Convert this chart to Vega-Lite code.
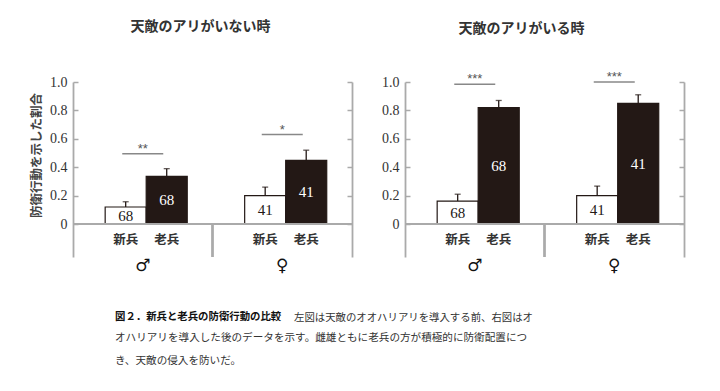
{
  "$schema": "https://vega.github.io/schema/vega-lite/v6.json",
  "background": "white",
  "padding": {"left": 30, "top": 20, "right": 5, "bottom": 5},
  "config": {
    "view": {"stroke": null},
    "axis": {"grid": false}
  },
  "datasets": {
    "bars": [
      {"panel": "none", "sex": "♂", "soldier": "新兵", "value": 0.12, "upper": 0.157, "n": 68},
      {"panel": "none", "sex": "♂", "soldier": "老兵", "value": 0.336, "upper": 0.39, "n": 68},
      {"panel": "none", "sex": "♀", "soldier": "新兵", "value": 0.2, "upper": 0.26, "n": 41},
      {"panel": "none", "sex": "♀", "soldier": "老兵", "value": 0.448, "upper": 0.52, "n": 41},
      {"panel": "with", "sex": "♂", "soldier": "新兵", "value": 0.162, "upper": 0.21, "n": 68},
      {"panel": "with", "sex": "♂", "soldier": "老兵", "value": 0.82, "upper": 0.87, "n": 68},
      {"panel": "with", "sex": "♀", "soldier": "新兵", "value": 0.2, "upper": 0.267, "n": 41},
      {"panel": "with", "sex": "♀", "soldier": "老兵", "value": 0.85, "upper": 0.91, "n": 41}
    ],
    "sig": [
      {"panel": "none", "sex": "♂", "level": 0.495, "label": "**"},
      {"panel": "none", "sex": "♀", "level": 0.63, "label": "*"},
      {"panel": "with", "sex": "♂", "level": 0.985, "label": "***"},
      {"panel": "with", "sex": "♀", "level": 1.0, "label": "***"}
    ]
  },
  "title": {
    "text": "図２．新兵と老兵の防衛行動の比較",
    "subtitle": ["オハリアリを導入した後のデータを示す。雌雄ともに老兵の方が積極的に防衛配置につ", "き、天敵の侵入を防いだ。"],
    "orient": "bottom",
    "anchor": "start",
    "frame": "bounds",
    "font": "Noto Sans CJK JP",
    "fontSize": 10.4,
    "fontWeight": "bold",
    "color": "#111111",
    "subtitleFont": "Noto Sans CJK JP",
    "subtitleFontSize": 10.6,
    "subtitleColor": "#333333",
    "subtitleLineHeight": 22.5,
    "subtitlePadding": 10.5,
    "offset": 0,
    "dy": -11,
    "dx": 85
  },
  "vconcat": [
    {
      "title": {
        "text": "左図は天敵のオオハリアリを導入する前、右図はオ",
        "orient": "bottom",
        "anchor": "start",
        "frame": "bounds",
        "font": "Noto Sans CJK JP",
        "fontSize": 10.4,
        "fontWeight": "normal",
        "color": "#333333",
        "offset": 40,
        "dx": 264
      },
      "spacing": 28,
      "hconcat": [
        {
          "width": 279,
          "height": 175,
          "title": {"text": "天敵のアリがいない時", "anchor": "middle", "frame": "group", "dx": -12, "font": "Noto Sans CJK JP", "fontSize": 14, "fontWeight": "bold", "color": "#333333", "offset": 41},
          "resolve": {"scale": {"y": "independent"}, "axis": {"y": "independent"}},
          "layer": [
            {
              "resolve": {"axis": {"y": "independent"}},
              "layer": [
                {
                  "data": {"name": "bars"},
                  "transform": [{"filter": "datum.panel === 'none'"}],
                  "mark": {"type": "bar", "stroke": "#231815", "strokeWidth": 1.2},
                  "encoding": {
                    "x": {"field": "sex", "type": "nominal", "sort": ["♂", "♀"], "scale": {"paddingInner": 0, "paddingOuter": 0},
                      "axis": {"title": null, "domain": false, "ticks": false, "labelAngle": 0, "labelFont": "DejaVu Sans", "labelFontSize": 17, "labelFontWeight": "bold", "labelColor": "#111111", "labelPadding": 0}},
                    "xOffset": {"field": "soldier", "type": "nominal", "sort": ["新兵", "老兵"], "scale": {"paddingInner": 0, "paddingOuter": 0.7, "align": 0.56}},
                    "y": {"field": "value", "type": "quantitative", "scale": {"domain": [-0.232, 1], "nice": false, "zero": false},
                      "axis": {"orient": "left", "values": [0, 0.2, 0.4, 0.6, 0.8, 1.0], "labelExpr": "datum.value == 0 ? '0' : format(datum.value, '.1f')", "domainColor": "#aaaaaa", "domainWidth": 1.8, "tickColor": "#aaaaaa", "tickWidth": 1.5, "tickSize": -5, "labelPadding": 11, "labelFont": "Liberation Serif", "labelFontSize": 14, "labelColor": "#333333",
                        "title": "防衛行動を示した割合", "titleFont": "Noto Sans CJK JP", "titleFontSize": 12.5, "titleFontWeight": "bold", "titleColor": "#444444", "titleAngle": -90, "titleX": -37, "titleY": 73, "titleAlign": "center", "titleBaseline": "middle"}},
                    "color": {"field": "soldier", "type": "nominal", "scale": {"domain": ["新兵", "老兵"], "range": ["#ffffff", "#231815"]}, "legend": null}
                  }
                },
                {
                  "data": {"name": "bars"},
                  "transform": [{"filter": "datum.panel === 'none'"}],
                  "mark": {"type": "rule", "color": "#231815", "strokeWidth": 1.3},
                  "encoding": {
                    "x": {"field": "sex", "type": "nominal", "sort": ["♂", "♀"]},
                    "xOffset": {"field": "soldier", "type": "nominal", "sort": ["新兵", "老兵"]},
                    "y": {"field": "value", "type": "quantitative", "axis": null},
                    "y2": {"field": "upper"}
                  }
                },
                {
                  "data": {"name": "bars"},
                  "transform": [{"filter": "datum.panel === 'none'"}],
                  "mark": {"type": "tick", "orient": "horizontal", "size": 6, "thickness": 1.3, "color": "#231815"},
                  "encoding": {
                    "x": {"field": "sex", "type": "nominal", "sort": ["♂", "♀"]},
                    "xOffset": {"field": "soldier", "type": "nominal", "sort": ["新兵", "老兵"]},
                    "y": {"field": "upper", "type": "quantitative", "axis": null}
                  }
                },
                {
                  "data": {"name": "bars"},
                  "transform": [{"filter": "datum.panel === 'none'"}],
                  "mark": {"type": "text", "font": "Noto Sans CJK JP", "fontSize": 12.5, "fontWeight": "bold", "color": "#333333", "baseline": "middle"},
                  "encoding": {
                    "x": {"field": "sex", "type": "nominal", "sort": ["♂", "♀"]},
                    "xOffset": {"field": "soldier", "type": "nominal", "sort": ["新兵", "老兵"]},
                    "y": {"datum": -0.113, "type": "quantitative", "axis": null},
                    "text": {"field": "soldier"}
                  }
                },
                {
                  "data": {"name": "bars"},
                  "transform": [{"filter": "datum.panel === 'none'"}],
                  "mark": {"type": "rule", "color": "#aaaaaa", "strokeWidth": 1.8},
                  "encoding": {
                    "y": {"datum": 0, "type": "quantitative", "axis": {"orient": "right", "values": [0, 0.2, 0.4, 0.6, 0.8, 1.0], "labels": false, "title": null, "domainColor": "#aaaaaa", "domainWidth": 1.8, "tickColor": "#aaaaaa", "tickWidth": 1.5, "tickSize": -5}}
                  }
                },
                {
                  "data": {"name": "bars"},
                  "transform": [{"filter": "datum.panel === 'none'"}],
                  "mark": {"type": "rule", "color": "#aaaaaa", "strokeWidth": 1.8},
                  "encoding": {
                    "x": {"datum": "♀", "type": "nominal", "bandPosition": 0, "sort": ["♂", "♀"]},
                    "y": {"datum": 0, "type": "quantitative", "axis": null},
                    "y2": {"datum": -0.232}
                  }
                },
                {
                  "data": {"name": "sig"},
                  "transform": [{"filter": "datum.panel === 'none'"}],
                  "mark": {"type": "tick", "orient": "horizontal", "size": 41, "thickness": 1.5, "color": "#555555"},
                  "encoding": {
                    "x": {"field": "sex", "type": "nominal", "sort": ["♂", "♀"]},
                    "y": {"field": "level", "type": "quantitative", "axis": null}
                  }
                },
                {
                  "data": {"name": "sig"},
                  "transform": [{"filter": "datum.panel === 'none'"}],
                  "mark": {"type": "text", "font": "Liberation Sans", "fontSize": 13, "color": "#555555", "baseline": "middle", "dy": -5},
                  "encoding": {
                    "x": {"field": "sex", "type": "nominal", "sort": ["♂", "♀"]},
                    "y": {"field": "level", "type": "quantitative", "axis": null},
                    "text": {"field": "label"}
                  }
                }
              ]
            },
            {
              "data": {"name": "bars"},
              "transform": [{"filter": "datum.panel === 'none'"}],
              "mark": {"type": "text", "font": "Liberation Serif", "fontSize": 15, "baseline": "middle", "align": "center"},
              "encoding": {
                "x": {"field": "sex", "type": "nominal", "sort": ["♂", "♀"]},
                "xOffset": {"field": "soldier", "type": "nominal", "sort": ["新兵", "老兵"]},
                "y": {"field": "value", "type": "quantitative", "scale": {"domain": [-0.464, 2], "nice": false, "zero": false}, "axis": null},
                "text": {"field": "n", "type": "quantitative"},
                "color": {"condition": {"test": "datum.soldier === '老兵'", "value": "#ffffff"}, "value": "#231815"}
              }
            }
          ]
        },
        {
          "width": 279,
          "height": 175,
          "title": {"text": "天敵のアリがいる時", "anchor": "middle", "frame": "group", "dx": -23, "font": "Noto Sans CJK JP", "fontSize": 14, "fontWeight": "bold", "color": "#333333", "offset": 35},
          "resolve": {"scale": {"y": "independent"}, "axis": {"y": "independent"}},
          "layer": [
            {
              "resolve": {"axis": {"y": "independent"}},
              "layer": [
                {
                  "data": {"name": "bars"},
                  "transform": [{"filter": "datum.panel === 'with'"}],
                  "mark": {"type": "bar", "stroke": "#231815", "strokeWidth": 1.2},
                  "encoding": {
                    "x": {"field": "sex", "type": "nominal", "sort": ["♂", "♀"], "scale": {"paddingInner": 0, "paddingOuter": 0},
                      "axis": {"title": null, "domain": false, "ticks": false, "labelAngle": 0, "labelFont": "DejaVu Sans", "labelFontSize": 17, "labelFontWeight": "bold", "labelColor": "#111111", "labelPadding": 0}},
                    "xOffset": {"field": "soldier", "type": "nominal", "sort": ["新兵", "老兵"], "scale": {"paddingInner": 0, "paddingOuter": 0.7, "align": 0.47}},
                    "y": {"field": "value", "type": "quantitative", "scale": {"domain": [-0.232, 1], "nice": false, "zero": false},
                      "axis": {"orient": "left", "values": [0, 0.2, 0.4, 0.6, 0.8, 1.0], "labelExpr": "datum.value == 0 ? '0' : format(datum.value, '.1f')", "domainColor": "#aaaaaa", "domainWidth": 1.8, "tickColor": "#aaaaaa", "tickWidth": 1.5, "tickSize": -5, "labelPadding": 11, "labelFont": "Liberation Serif", "labelFontSize": 14, "labelColor": "#333333", "title": null}},
                    "color": {"field": "soldier", "type": "nominal", "scale": {"domain": ["新兵", "老兵"], "range": ["#ffffff", "#231815"]}, "legend": null}
                  }
                },
                {
                  "data": {"name": "bars"},
                  "transform": [{"filter": "datum.panel === 'with'"}],
                  "mark": {"type": "rule", "color": "#231815", "strokeWidth": 1.3},
                  "encoding": {
                    "x": {"field": "sex", "type": "nominal", "sort": ["♂", "♀"]},
                    "xOffset": {"field": "soldier", "type": "nominal", "sort": ["新兵", "老兵"]},
                    "y": {"field": "value", "type": "quantitative", "axis": null},
                    "y2": {"field": "upper"}
                  }
                },
                {
                  "data": {"name": "bars"},
                  "transform": [{"filter": "datum.panel === 'with'"}],
                  "mark": {"type": "tick", "orient": "horizontal", "size": 6, "thickness": 1.3, "color": "#231815"},
                  "encoding": {
                    "x": {"field": "sex", "type": "nominal", "sort": ["♂", "♀"]},
                    "xOffset": {"field": "soldier", "type": "nominal", "sort": ["新兵", "老兵"]},
                    "y": {"field": "upper", "type": "quantitative", "axis": null}
                  }
                },
                {
                  "data": {"name": "bars"},
                  "transform": [{"filter": "datum.panel === 'with'"}],
                  "mark": {"type": "text", "font": "Noto Sans CJK JP", "fontSize": 12.5, "fontWeight": "bold", "color": "#333333", "baseline": "middle"},
                  "encoding": {
                    "x": {"field": "sex", "type": "nominal", "sort": ["♂", "♀"]},
                    "xOffset": {"field": "soldier", "type": "nominal", "sort": ["新兵", "老兵"]},
                    "y": {"datum": -0.113, "type": "quantitative", "axis": null},
                    "text": {"field": "soldier"}
                  }
                },
                {
                  "data": {"name": "bars"},
                  "transform": [{"filter": "datum.panel === 'with'"}],
                  "mark": {"type": "rule", "color": "#aaaaaa", "strokeWidth": 1.8},
                  "encoding": {
                    "y": {"datum": 0, "type": "quantitative", "axis": {"orient": "right", "values": [0, 0.2, 0.4, 0.6, 0.8, 1.0], "labels": false, "title": null, "domainColor": "#aaaaaa", "domainWidth": 1.8, "tickColor": "#aaaaaa", "tickWidth": 1.5, "tickSize": -5}}
                  }
                },
                {
                  "data": {"name": "bars"},
                  "transform": [{"filter": "datum.panel === 'with'"}],
                  "mark": {"type": "rule", "color": "#aaaaaa", "strokeWidth": 1.8},
                  "encoding": {
                    "x": {"datum": "♀", "type": "nominal", "bandPosition": 0, "sort": ["♂", "♀"]},
                    "y": {"datum": 0, "type": "quantitative", "axis": null},
                    "y2": {"datum": -0.232}
                  }
                },
                {
                  "data": {"name": "sig"},
                  "transform": [{"filter": "datum.panel === 'with'"}],
                  "mark": {"type": "tick", "orient": "horizontal", "size": 41, "thickness": 1.5, "color": "#555555"},
                  "encoding": {
                    "x": {"field": "sex", "type": "nominal", "sort": ["♂", "♀"]},
                    "y": {"field": "level", "type": "quantitative", "axis": null}
                  }
                },
                {
                  "data": {"name": "sig"},
                  "transform": [{"filter": "datum.panel === 'with'"}],
                  "mark": {"type": "text", "font": "Liberation Sans", "fontSize": 13, "color": "#555555", "baseline": "middle", "dy": -5},
                  "encoding": {
                    "x": {"field": "sex", "type": "nominal", "sort": ["♂", "♀"]},
                    "y": {"field": "level", "type": "quantitative", "axis": null},
                    "text": {"field": "label"}
                  }
                }
              ]
            },
            {
              "data": {"name": "bars"},
              "transform": [{"filter": "datum.panel === 'with'"}],
              "mark": {"type": "text", "font": "Liberation Serif", "fontSize": 15, "baseline": "middle", "align": "center"},
              "encoding": {
                "x": {"field": "sex", "type": "nominal", "sort": ["♂", "♀"]},
                "xOffset": {"field": "soldier", "type": "nominal", "sort": ["新兵", "老兵"]},
                "y": {"field": "value", "type": "quantitative", "scale": {"domain": [-0.464, 2], "nice": false, "zero": false}, "axis": null},
                "text": {"field": "n", "type": "quantitative"},
                "color": {"condition": {"test": "datum.soldier === '老兵'", "value": "#ffffff"}, "value": "#231815"}
              }
            }
          ]
        }
      ]
    }
  ]
}
